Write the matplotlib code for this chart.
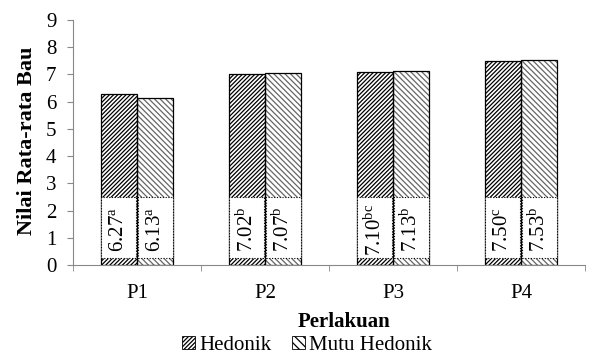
import numpy as np
import matplotlib.pyplot as plt
from matplotlib.patches import Patch

plt.rcParams['font.family'] = ['Liberation Serif', 'DejaVu Serif']
plt.rcParams['mathtext.fontset'] = 'custom'
plt.rcParams['mathtext.rm'] = 'Liberation Serif'
plt.rcParams['mathtext.it'] = 'Liberation Serif'
plt.rcParams['hatch.linewidth'] = 0.9

# data
categories = ['P1', 'P2', 'P3', 'P4']
hedonik = [6.27, 7.02, 7.10, 7.50]
mutu_hedonik = [6.13, 7.07, 7.13, 7.53]
hedonik_notes = ['a', 'b', 'bc', 'c']
mutu_notes = ['a', 'b', 'b', 'b']

fig = plt.figure(figsize=(5.92, 3.56), dpi=100)
ax = fig.add_axes([73 / 592, 1 - 265 / 356, 512 / 592, 245 / 356])

x = np.arange(len(categories))
w = 0.285
off = w / 2

# hatch layers first, outlines on top
ax.bar(x - off, hedonik, w, color='white', edgecolor='black', hatch='////////', linewidth=0)
ax.bar(x + off, mutu_hedonik, w, color='white', edgecolor='#666666', hatch='\\\\\\\\\\\\', linewidth=0)
ax.bar(x - off, hedonik, w, fill=False, edgecolor='black', linewidth=0.9)
ax.bar(x + off, mutu_hedonik, w, fill=False, edgecolor='black', linewidth=0.9)

# white label boxes inside bars
for xs, vals, notes in [(x - off, hedonik, hedonik_notes), (x + off, mutu_hedonik, mutu_notes)]:
    ax.bar(xs, 2.25, w * 0.96, bottom=0.25, color='white', edgecolor='black',
           linestyle=(0, (1, 1.5)), linewidth=0.8)
    for xi, v, n in zip(xs, vals, notes):
        ax.text(xi, 1.3, f'{v:.2f}' + r'$^{\mathrm{' + n + '}}$', rotation=90,
                ha='center', va='center', fontsize=15)

ax.set_xlim(-0.5, 3.5)
ax.set_ylim(0, 9)
ax.set_yticks(range(0, 10))
ax.set_xticks(x)
ax.set_xticklabels(categories)
ax.set_xticks(np.arange(-0.5, 4, 1), minor=True)
ax.tick_params(axis='x', which='major', length=0, labelsize=15, pad=14)
ax.tick_params(axis='x', which='minor', length=4, color='#888888', direction='out')
ax.tick_params(axis='y', length=4, color='#888888', labelsize=15, pad=8)

for s in ['top', 'right']:
    ax.spines[s].set_visible(False)
for s in ['left', 'bottom']:
    ax.spines[s].set_color('#888888')

ax.set_ylabel('Nilai Rata-rata Bau', fontsize=16, fontweight='bold')
ax.yaxis.set_label_coords((37 - 73) / 512, (265 - 141) / 245)
fig.text(344 / 592, 1 - 322 / 356, 'Perlakuan', ha='center', va='center',
         fontsize=15, fontweight='bold')

# legend handles carry the hatch patterns
h1 = Patch(facecolor='white', edgecolor='black', hatch='////////', linewidth=0.6, label='Hedonik')
h2 = Patch(facecolor='white', edgecolor='black', hatch='\\\\\\\\', linewidth=0.6, label='Mutu Hedonik')
fig.legend(handles=[h1, h2], loc='center', bbox_to_anchor=(307 / 592, 1 - 345 / 356),
           ncol=2, frameon=False, fontsize=15, handlelength=0.6, handleheight=0.6,
           handletextpad=0.2, columnspacing=1.0, borderpad=0)

fig.savefig('out.png', dpi=100)
